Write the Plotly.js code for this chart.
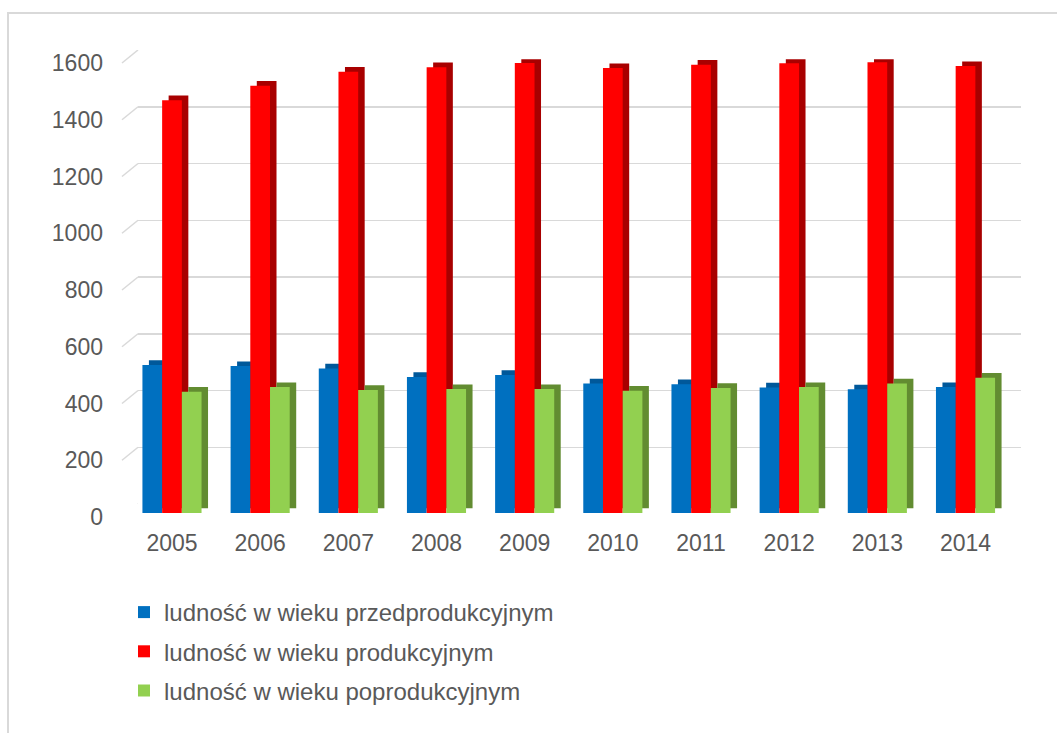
<!DOCTYPE html>
<html>
<head>
<meta charset="utf-8">
<script src="https://cdn.plot.ly/plotly-3.0.1.min.js"></script>
<style>
  html, body { margin: 0; padding: 0; background: #ffffff; }
  #chart { position: absolute; left: 0; top: 0; width: 1057px; height: 733px; }
  #frame { position: absolute; left: 7px; top: 12px; width: 1200px; height: 900px;
           border-left: 2px solid #d9d9d9; border-top: 2px solid #d9d9d9; pointer-events: none; }
</style>
</head>
<body>
<div id="chart"></div>
<div id="frame"></div>
<script>
// ---- data ----
const years = ['2005', '2006', '2007', '2008', '2009', '2010', '2011', '2012', '2013', '2014'];
const przedprodukcyjny = [522, 518, 510, 480, 487, 457, 454, 443, 436, 444];
const produkcyjny      = [1456, 1507, 1556, 1572, 1587, 1569, 1581, 1586, 1590, 1576];
const poprodukcyjny    = [428, 444, 434, 437, 437, 431, 441, 444, 457, 477];
const seriesNames = ['ludność w wieku przedprodukcyjnym', 'ludność w wieku produkcyjnym', 'ludność w wieku poprodukcyjnym'];
const yTicks = [0, 200, 400, 600, 800, 1000, 1200, 1400, 1600];

// ---- style ----
const W = 1057, H = 733;
const px = x => x / W;
const py = y => 1 - y / H;
const FONT = 'Liberation Sans, Arial, sans-serif';
const TXT = '#595959';
const GRID = '#d9d9d9';
const frontColors = ['#0070C0', '#FF0000', '#92D050'];
const sideColors  = ['#00589A', '#A80000', '#628C31'];
const barW = 0.2235;
const offsets = [-1.5 * barW, -0.5 * barW, 0.5 * barW];
const depthX = 0.0737;   // 3D depth shift (category units)
const depthY = 16.6;     // 3D depth shift (value units)

const allSeries = [przedprodukcyjny, produkcyjny, poprodukcyjny];
const traces = [];

// empty trace so the back-wall grid subplot is drawn
traces.push({ type: 'scatter', x: [], y: [], xaxis: 'x', yaxis: 'y', showlegend: false, hoverinfo: 'skip' });

// side/top faces (drawn first, behind)
allSeries.forEach((vals, i) => {
  traces.push({
    type: 'bar', x: years, y: vals, base: depthY,
    xaxis: 'x2', yaxis: 'y2',
    offset: offsets[i] + depthX, width: barW,
    marker: { color: sideColors[i], line: { width: 0 } },
    showlegend: false, hoverinfo: 'skip'
  });
});
// front faces
allSeries.forEach((vals, i) => {
  traces.push({
    type: 'bar', x: years, y: vals, name: seriesNames[i],
    xaxis: 'x2', yaxis: 'y2',
    offset: offsets[i], width: barW,
    legendgroup: 'g' + i,
    marker: { color: frontColors[i], line: { width: 0 } }
  });
});

const shapes = yTicks.map(v => ({
  type: 'line', xref: 'x domain', yref: 'y',
  x0: (122 - 138) / (1021 - 138), x1: 0,
  ysizemode: 'pixel', yanchor: v, y0: -13, y1: 0,
  line: { color: GRID, width: 1.5 }
}));

const layout = {
  width: W, height: H,
  margin: { l: 0, r: 0, t: 0, b: 0, pad: 0 },
  paper_bgcolor: '#ffffff',
  plot_bgcolor: 'rgba(0,0,0,0)',
  font: { family: FONT, color: TXT, size: 23 },
  barmode: 'overlay',
  hovermode: false,
  showlegend: true,
  xaxis: {
    domain: [px(138), px(1021)], range: [0, 1],
    showgrid: false, zeroline: false, showline: false, showticklabels: false, ticks: ''
  },
  yaxis: {
    domain: [py(504), py(50)], range: [0, 1600],
    tickvals: yTicks, ticktext: yTicks.map(String),
    showgrid: true, gridcolor: GRID, gridwidth: 1.5,
    zeroline: false, showline: false, ticks: '',
    ticklabelshift: 13, ticklabelstandoff: 34,
    tickfont: { family: FONT, size: 23, color: TXT },
    anchor: 'x'
  },
  xaxis2: {
    domain: [px(127.9), px(1009.6)], type: 'category',
    anchor: 'y2', showgrid: false, zeroline: false, showline: false, ticks: '',
    ticklabelshift: -6.5, ticklabelstandoff: 14,
    tickfont: { family: FONT, size: 23, color: TXT }
  },
  yaxis2: {
    domain: [py(513), py(59.3)], range: [0, 1600],
    anchor: 'x2', visible: false, showgrid: false, zeroline: false
  },
  legend: {
    x: px(124), xanchor: 'left', y: py(590), yanchor: 'top',
    orientation: 'v', traceorder: 'grouped', tracegroupgap: 5,
    font: { family: FONT, size: 24, color: TXT },
    bgcolor: 'rgba(0,0,0,0)', borderwidth: 0
  },
  shapes: shapes
};

Plotly.newPlot('chart', traces, layout, { staticPlot: true, displayModeBar: false });
</script>
</body>
</html>
